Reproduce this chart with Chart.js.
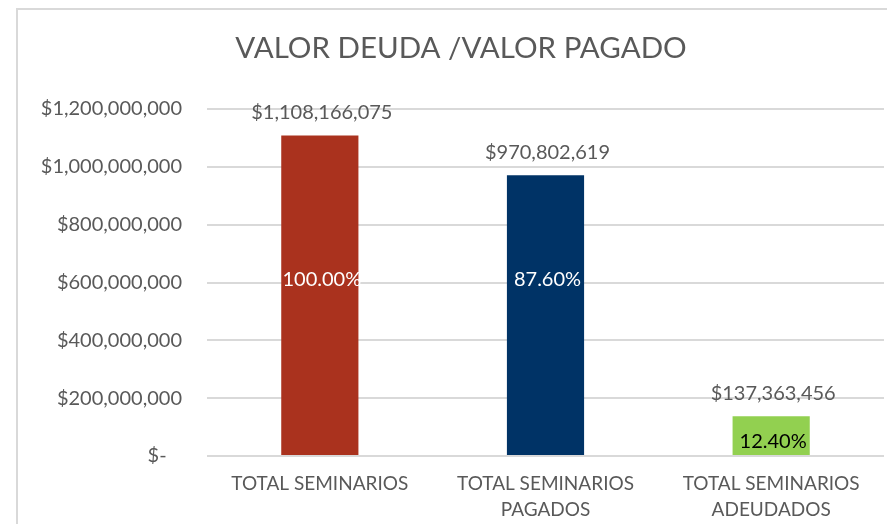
<!DOCTYPE html>
<html lang="es">
  <head>
    <meta charset="UTF-8" />
    <title>Valor deuda / valor pagado</title>
    <script src="https://cdn.jsdelivr.net/npm/chart.js"></script>
    <style>
      body { margin: 0; background: #fff; }
      #wrap { width: 887px; height: 524px; }
    </style>
  </head>
  <body>
    <div id="wrap">
      <canvas id="deuda-chart" width="887" height="524"></canvas>
    </div>

    <script>
      // datos
      const categorias = [
        ["TOTAL SEMINARIOS"],
        ["TOTAL SEMINARIOS", "PAGADOS"],
        ["TOTAL SEMINARIOS", "ADEUDADOS"],
      ];
      const valores = [1108166075, 970802619, 137363456];
      const porcentajes = ["100.00%", "87.60%", "12.40%"];
      const yTicks = [0, 200000000, 400000000, 600000000, 800000000, 1000000000, 1200000000];

      const colores = ["#AA321E", "#003366", "#92D050"];
      const colorPct = ["#ffffff", "#ffffff", "#000000"];
      const gris = "#595959";
      const fuente = "Lato, 'Liberation Sans', sans-serif";

      const fmt = (v) => "$" + v.toLocaleString("en-US");

      // marco, título y etiquetas
      const extras = {
        id: "extras",
        beforeDraw(chart) {
          const ctx = chart.ctx;
          ctx.save();
          ctx.fillStyle = "#fff";
          ctx.fillRect(0, 0, chart.width, chart.height);
          ctx.strokeStyle = "#d9d9d9";
          ctx.lineWidth = 2;
          ctx.strokeRect(17, 9, 1000, 1000);
          ctx.restore();
        },
        afterDraw(chart) {
          const ctx = chart.ctx;
          ctx.save();
          ctx.fillStyle = gris;
          ctx.font = "29.5px " + fuente;
          ctx.textAlign = "center";
          ctx.textBaseline = "middle";
          ctx.fillText("VALOR DEUDA /VALOR PAGADO", 461, 48);
          ctx.restore();
        },
        afterDatasetsDraw(chart) {
          const ctx = chart.ctx;
          const meta = chart.getDatasetMeta(0);
          const y = chart.scales.y;
          ctx.save();
          ctx.textAlign = "center";
          ctx.textBaseline = "middle";
          meta.data.forEach((bar, i) => {
            ctx.font = "20px " + fuente;
            ctx.fillStyle = gris;
            ctx.fillText(fmt(valores[i]), bar.x + 2, bar.y - 23);

            let py;
            if (bar.base - bar.y > 200) {
              py = y.getPixelForValue(610000000);
            } else {
              py = (bar.y + bar.base) / 2 + 6;
            }
            ctx.fillStyle = colorPct[i];
            ctx.fillText(porcentajes[i], bar.x + 2, py);
          });
          ctx.restore();
        },
      };

      const ctx = document.getElementById("deuda-chart").getContext("2d");
      new Chart(ctx, {
        type: "bar",
        data: {
          labels: categorias,
          datasets: [
            {
              data: valores,
              backgroundColor: colores,
              categoryPercentage: 1,
              barPercentage: 0.342,
            },
          ],
        },
        options: {
          responsive: false,
          animation: false,
          layout: { padding: { top: 109, right: 3, left: 0, bottom: 0 } },
          plugins: {
            legend: { display: false },
            tooltip: { enabled: false },
            title: { display: false },
          },
          scales: {
            x: {
              grid: { display: false, drawTicks: false },
              border: { display: false },
              ticks: {
                color: gris,
                padding: 15,
                font: { family: fuente, size: 19, lineHeight: 1.35 },
              },
              afterFit(scale) {
                scale.height = 68;
              },
            },
            y: {
              min: 0,
              max: 1200000000,
              afterBuildTicks(scale) {
                scale.ticks = yTicks.map((v) => ({ value: v }));
              },
              grid: { color: "#d9d9d9", lineWidth: 2, drawTicks: false },
              border: { display: false },
              ticks: {
                color: gris,
                padding: 25,
                font: { family: fuente, size: 20 },
                callback: (v) => (v === 0 ? "$-   " : fmt(v)),
              },
              afterFit(scale) {
                scale.width = 207;
              },
            },
          },
        },
        plugins: [extras],
      });
    </script>
  </body>
</html>
